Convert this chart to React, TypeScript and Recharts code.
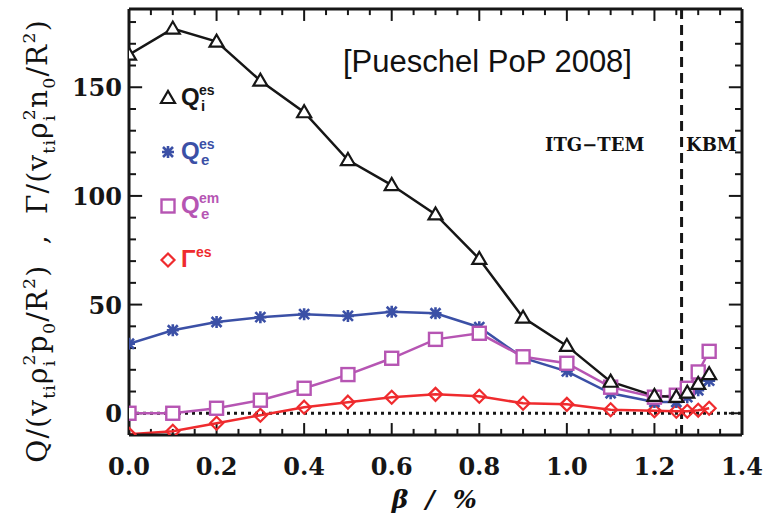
import React from 'react';
import { LineChart, Line, XAxis, YAxis, ReferenceLine } from 'recharts';

// beta in percent
const betaValues = [0, 0.1, 0.2, 0.3, 0.4, 0.5, 0.6, 0.7, 0.8, 0.9, 1.0, 1.1, 1.2, 1.25, 1.275, 1.3, 1.325];
const qiEs = [165, 177, 171, 153, 138.5, 116.5, 105, 91.5, 71, 44, 31, 14.5, 8, 7.5, 9.5, 13.5, 18];
const qeEs = [32, 38.2, 42, 44.2, 45.6, 44.8, 46.7, 46, 39.6, 25.5, 19.3, 9.2, 5.2, 5.2, 7.4, 10.6, 15];
const qeEm = [0, 0, 2.3, 6, 11.5, 17.8, 25.3, 34, 36.8, 26, 23, 12, 7.4, 8.3, 11.5, 19, 28.5];
const gammaEs = [-9.7, -8.3, -4.6, -0.9, 2.8, 5.1, 7.4, 8.7, 7.8, 4.6, 4.1, 1.6, 1.2, 0.9, 0.9, 1.4, 2.3];

const xMajorTicks = [0, 0.2, 0.4, 0.6, 0.8, 1.0, 1.2, 1.4];
const xMinorStep = 0.05;
const yMajorTicks = [0, 50, 100, 150];
const yMinorStep = 10;
const xDomain: [number, number] = [0, 1.4];
const yDomain: [number, number] = [-10, 186];
const kbmBoundary = 1.262;

const BLACK = '#161616';
const BLUE = '#3b50a6';
const MAGENTA = '#b655b3';
const RED = '#ef2b2e';

const rows = betaValues.map((b, i) => ({
  beta: b,
  qiEs: qiEs[i],
  qeEs: qeEs[i],
  qeEm: qeEm[i],
  gammaEs: gammaEs[i],
}));

const xTicks = Array.from({ length: Math.round(xDomain[1] / xMinorStep) + 1 }, (_, i) => +(i * xMinorStep).toFixed(2));
const yTicks = Array.from({ length: 20 }, (_, i) => -10 + i * yMinorStep);

const isMajor = (v: number, majors: number[]) => majors.some((m) => Math.abs(m - v) < 1e-6);

// inward tick marks drawn as short reference segments (lengths in data units)
const xTickLen = (v: number) => (isMajor(v, xMajorTicks) ? 5.5 : 2.8);
const yTickLen = (v: number) => (isMajor(v, yMajorTicks) ? 0.03 : 0.016);

const tickFont = { fontFamily: 'DejaVu Serif', fontWeight: 700, fontSize: 24, fill: BLACK };

const bottomTick = (props: any) => {
  const { x, y, payload } = props;
  if (!isMajor(payload.value, xMajorTicks)) return <g />;
  return (
    <text x={x} y={y + 40} textAnchor="middle" {...tickFont}>
      {payload.value.toFixed(1)}
    </text>
  );
};

const leftTick = (props: any) => {
  const { x, y, payload } = props;
  if (!isMajor(payload.value, yMajorTicks)) return <g />;
  return (
    <text x={x - 7} y={y + 9} textAnchor="end" {...tickFont}>
      {payload.value}
    </text>
  );
};

const triangle = (cx: number, cy: number, color: string, key?: any) => (
  <path key={key} d={`M${cx - 7},${cy + 5} L${cx + 7},${cy + 5} L${cx},${cy - 7} Z`} fill="#fff" stroke={color} strokeWidth={2.2} />
);
const asterisk = (cx: number, cy: number, color: string, key?: any) => (
  <path
    key={key}
    d={`M${cx - 6},${cy} L${cx + 6},${cy} M${cx},${cy - 6} L${cx},${cy + 6} M${cx - 5},${cy - 5} L${cx + 5},${cy + 5} M${cx - 5},${cy + 5} L${cx + 5},${cy - 5}`}
    stroke={color}
    strokeWidth={2.6}
  />
);
const square = (cx: number, cy: number, color: string, key?: any) => (
  <rect key={key} x={cx - 6.5} y={cy - 6.5} width={13} height={13} fill="#fff" stroke={color} strokeWidth={2.4} />
);
const diamond = (cx: number, cy: number, color: string, key?: any) => (
  <path key={key} d={`M${cx},${cy - 6.5} L${cx + 6.5},${cy} L${cx},${cy + 6.5} L${cx - 6.5},${cy} Z`} fill="none" stroke={color} strokeWidth={2.2} />
);

const dotOf = (fn: typeof triangle, color: string) => (p: any) => fn(p.cx, p.cy, color, `${p.dataKey}-${p.index}`);

type Part = [string, 'n' | 'sub' | 'sup', number?];

function RichText({ parts, size, x, y, ...rest }: any) {
  let shift = 0;
  const small = size * 0.62;
  return (
    <text x={x} y={y} fontSize={size} {...rest}>
      {(parts as Part[]).map(([t, kind, dx], i) => {
        const target = kind === 'sub' ? size * 0.28 : kind === 'sup' ? -size * 0.42 : 0;
        const dy = target - shift;
        shift = target;
        return (
          <tspan key={i} dy={dy} dx={dx ?? 0} fontSize={kind === 'n' ? size : small}>
            {t}
          </tspan>
        );
      })}
    </text>
  );
}

const yLabelParts: Part[] = [
  ['Q/(v', 'n'], ['ti', 'sub'], ['ρ', 'n'], ['i', 'sub'], ['2', 'sup', -6], ['p', 'n'], ['0', 'sub'], ['/R', 'n'], ['2', 'sup'], [')  ,  Γ/(v', 'n'],
  ['ti', 'sub'], ['ρ', 'n'], ['i', 'sub'], ['2', 'sup', -6], ['n', 'n'], ['0', 'sub'], ['/R', 'n'], ['2', 'sup'], [')', 'n'],
];

const legendRows = [
  { marker: triangle, color: BLACK, main: 'Q', sup: 'es', sub: 'i', y: 98 },
  { marker: asterisk, color: BLUE, main: 'Q', sup: 'es', sub: 'e', y: 152 },
  { marker: square, color: MAGENTA, main: 'Q', sup: 'em', sub: 'e', y: 206 },
  { marker: diamond, color: RED, main: 'Γ', sup: 'es', sub: '', y: 260 },
];

const frame = { stroke: BLACK, strokeWidth: 3 };
const ids = { xAxisId: 'b', yAxisId: 'l' };

export default function App() {
  return (
    <div style={{ position: 'relative', width: 773, height: 513, background: '#fff' }}>
      <style>{'body{margin:0}'}</style>
      <LineChart width={773} height={513} data={rows} margin={{ top: 8, right: 30, bottom: 0, left: 0 }}>
        <XAxis
          xAxisId="b"
          dataKey="beta"
          type="number"
          domain={xDomain}
          allowDataOverflow
          ticks={xTicks}
          interval={0}
          height={78}
          tickSize={0}
          tickMargin={0}
          tickLine={false}
          tick={bottomTick}
          axisLine={frame}
        />
        <XAxis xAxisId="t" orientation="top" dataKey="beta" type="number" domain={xDomain} allowDataOverflow height={1} tick={false} tickLine={false} axisLine={frame} />
        <YAxis
          yAxisId="l"
          type="number"
          domain={yDomain}
          allowDataOverflow
          ticks={yTicks}
          interval={0}
          width={129}
          tickSize={0}
          tickMargin={0}
          tickLine={false}
          tick={leftTick}
          axisLine={frame}
        />
        <YAxis yAxisId="r" orientation="right" type="number" domain={yDomain} allowDataOverflow width={1} tick={false} tickLine={false} axisLine={frame} />
        {xTicks.map((v) => (
          <ReferenceLine key={`xb-${v}`} {...ids} segment={[{ x: v, y: yDomain[0] }, { x: v, y: yDomain[0] + xTickLen(v) }]} stroke={BLACK} strokeWidth={2} />
        ))}
        {xTicks.map((v) => (
          <ReferenceLine key={`xt-${v}`} {...ids} segment={[{ x: v, y: yDomain[1] }, { x: v, y: yDomain[1] - xTickLen(v) }]} stroke={BLACK} strokeWidth={2} />
        ))}
        {yTicks.map((v) => (
          <ReferenceLine key={`yl-${v}`} {...ids} segment={[{ x: xDomain[0], y: v }, { x: xDomain[0] + yTickLen(v), y: v }]} stroke={BLACK} strokeWidth={2} />
        ))}
        {yTicks.map((v) => (
          <ReferenceLine key={`yr-${v}`} {...ids} segment={[{ x: xDomain[1], y: v }, { x: xDomain[1] - yTickLen(v), y: v }]} stroke={BLACK} strokeWidth={2} />
        ))}
        <ReferenceLine {...ids} y={0} stroke={BLACK} strokeWidth={3} strokeDasharray="3 4" />
        <ReferenceLine {...ids} x={kbmBoundary} stroke={BLACK} strokeWidth={3} strokeDasharray="10 6" />
        <Line {...ids} type="linear" dataKey="gammaEs" stroke={RED} strokeWidth={2.5} dot={dotOf(diamond, RED)} isAnimationActive={false} />
        <Line {...ids} type="linear" dataKey="qeEs" stroke={BLUE} strokeWidth={2.5} dot={dotOf(asterisk, BLUE)} isAnimationActive={false} />
        <Line {...ids} type="linear" dataKey="qeEm" stroke={MAGENTA} strokeWidth={2.5} dot={dotOf(square, MAGENTA)} isAnimationActive={false} />
        <Line {...ids} type="linear" dataKey="qiEs" stroke={BLACK} strokeWidth={2.5} dot={dotOf(triangle, BLACK)} isAnimationActive={false} />
      </LineChart>
      <svg width={773} height={513} style={{ position: 'absolute', left: 0, top: 0, pointerEvents: 'none' }}>
        <text x={343} y={72} fontFamily="Liberation Sans, Arial" fontSize={31} fill="#111">
          [Pueschel PoP 2008]
        </text>
        <text x={545} y={151} fontFamily="DejaVu Serif" fontWeight={700} fontSize={18} fill="#111">
          ITG−TEM
        </text>
        <text x={686} y={151} fontFamily="DejaVu Serif" fontWeight={700} fontSize={18} fill="#111">
          KBM
        </text>
        {legendRows.map((r, i) => (
          <g key={i}>
            {r.marker(168, r.y, r.color)}
            <text x={181} y={r.y + 7} fontFamily="Liberation Sans, Arial" fontWeight={700} fontSize={24} fill={r.color}>
              {r.main}
            </text>
            <text x={r.main === 'Q' ? 199 : 196} y={r.y - 3} fontFamily="Liberation Sans, Arial" fontWeight={700} fontSize={14} fill={r.color}>
              {r.sup}
            </text>
            {r.sub && (
              <text x={201} y={r.y + 13} fontFamily="Liberation Sans, Arial" fontWeight={700} fontSize={15} fill={r.color}>
                {r.sub}
              </text>
            )}
          </g>
        ))}
        <RichText
          parts={yLabelParts}
          size={28}
          x={0}
          y={0}
          transform="translate(47,241) rotate(-90)"
          textAnchor="middle"
          fontFamily="DejaVu Serif"
          letterSpacing={1.2}
          fill="#111"
          style={{ whiteSpace: 'pre' }}
        />
        <text x={400} y={508} textAnchor="middle" fontFamily="DejaVu Serif" fontWeight={700} fontStyle="italic" fontSize={25} fill="#111">
          β
        </text>
        <text x={430} y={508} textAnchor="middle" fontFamily="DejaVu Serif" fontWeight={700} fontStyle="italic" fontSize={25} fill="#111">
          /
        </text>
        <text x={465} y={508} textAnchor="middle" fontFamily="DejaVu Serif" fontWeight={700} fontStyle="italic" fontSize={25} fill="#111">
          %
        </text>
      </svg>
    </div>
  );
}
